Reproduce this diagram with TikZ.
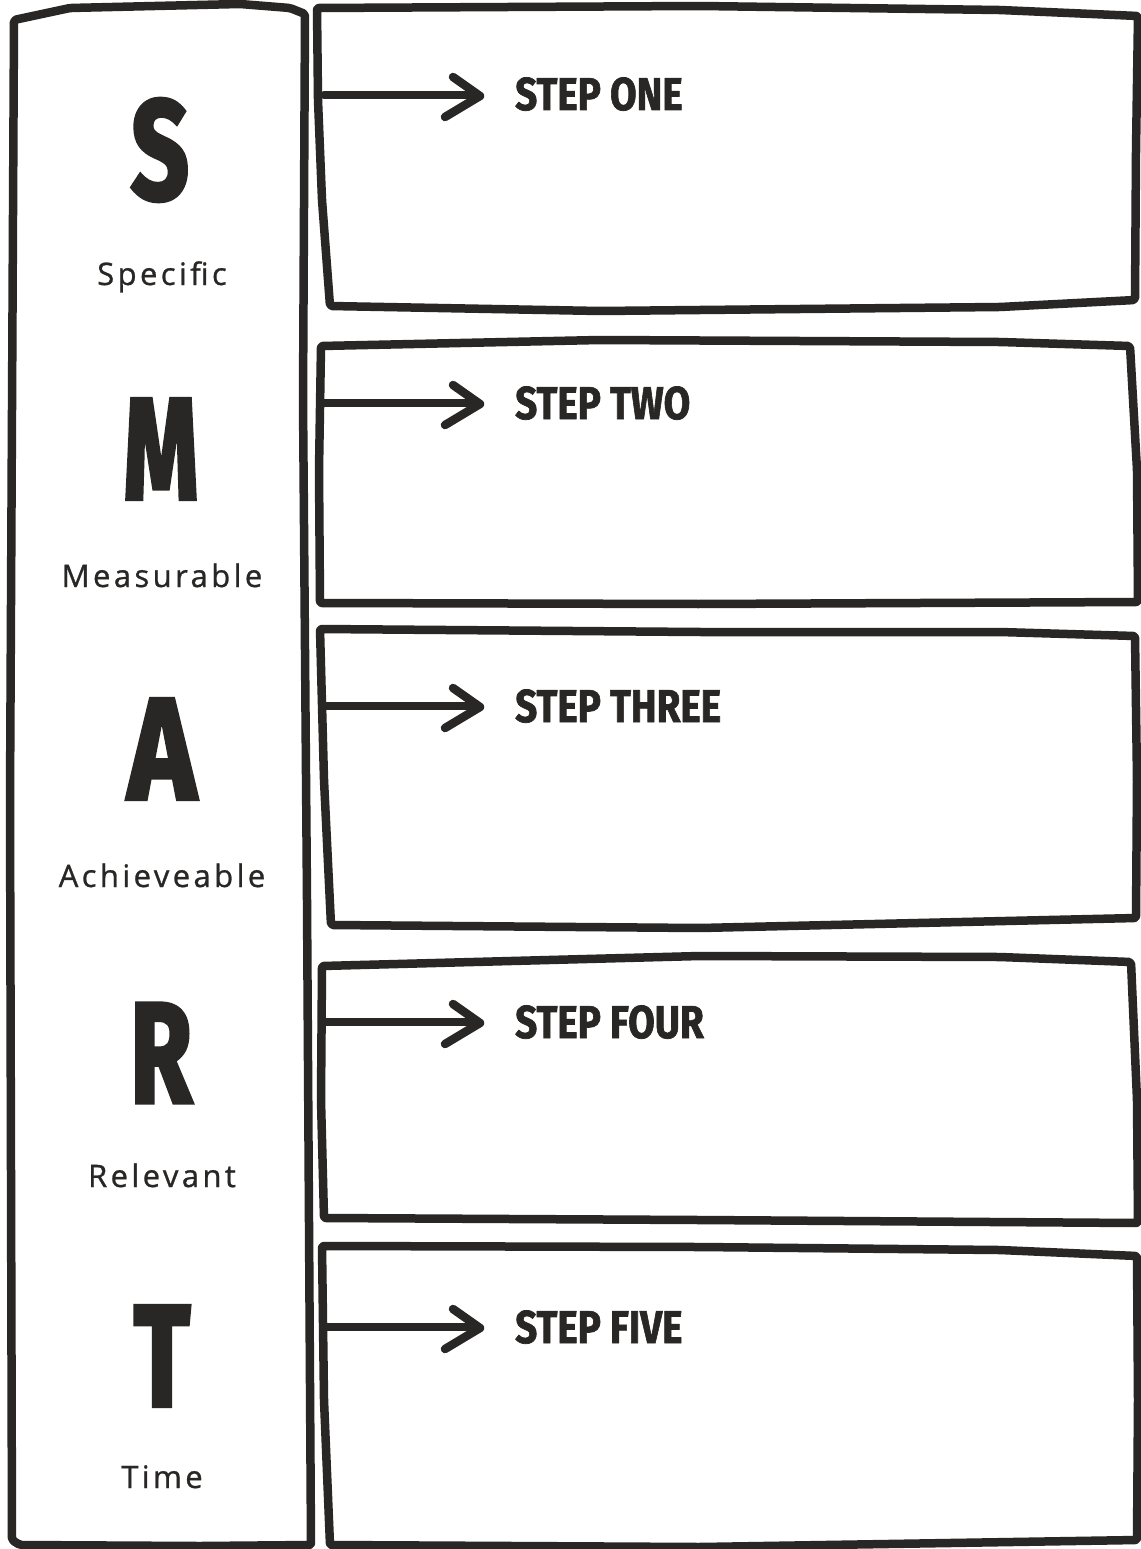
\documentclass[tikz,border=0pt]{standalone}
\usepackage{fontspec}
\usepackage{graphicx}
\usetikzlibrary{calc}
\setmainfont{Fira Sans}
\newfontfamily\labelfont{Open Sans}[LetterSpace=11, FakeBold=0.9]
\newfontfamily\stepfont{Fira Sans}[FakeBold=1.6]
\newfontfamily\heavyfont{Fira Sans}[FakeBold=3]
\definecolor{ink}{HTML}{282725}
\tikzset{
  handbox/.style={draw=ink, line width=8.5pt, line join=round, rounded corners=2pt},
  shaft/.style={draw=ink, line width=8.5pt, line cap=round},
  headline/.style={draw=ink, line width=8.5pt, line cap=round, line join=round},
  bigletter/.style={text=ink, inner sep=0pt, anchor=center},
  sublabel/.style={text=ink, inner sep=0pt, anchor=base, font=\labelfont\fontsize{31}{36}\selectfont},
  steplabel/.style={text=ink, inner sep=0pt, anchor=base west, font=\stepfont\bfseries\fontsize{46}{50}\selectfont}
}
\newcommand{\bigL}[3]{\resizebox{#1pt}{#2pt}{\heavyfont\bfseries #3}}
\newcommand{\stepT}[1]{\scalebox{0.84}[1]{#1}}
\begin{document}
\begin{tikzpicture}[x=1pt,y=-1pt]
\useasboundingbox[fill=white] (0,0) rectangle (1140,1549);
% left column
\draw[handbox] (14,20) -- (70,8) -- (240,4) -- (290,8) -- (305,14) -- (303,400) -- (307,900) -- (311,1545) -- (200,1546) -- (20,1545) -- (12,1540) -- (10,800) -- cycle;
% step boxes
\draw[handbox] (317,8) -- (700,6) -- (1000,10) -- (1138,16) -- (1136,150) -- (1135,300) -- (1000,307) -- (600,311) -- (330,306) -- (322,200) -- (318,100) -- cycle;
\draw[handbox] (321,346) -- (600,340) -- (1000,342) -- (1130,346) -- (1137,470) -- (1138,602) -- (700,604) -- (320,603) -- (319,470) -- cycle;
\draw[handbox] (320,629) -- (700,632) -- (1000,632) -- (1135,636) -- (1137,780) -- (1136,918) -- (700,928) -- (331,925) -- (324,780) -- cycle;
\draw[handbox] (322,966) -- (700,956) -- (1000,957) -- (1131,962) -- (1137,1100) -- (1138,1223) -- (700,1220) -- (324,1218) -- (321,1100) -- cycle;
\draw[handbox] (322,1246) -- (700,1247) -- (1000,1250) -- (1137,1256) -- (1138,1400) -- (1137,1540) -- (700,1547) -- (330,1545) -- (324,1400) -- cycle;
% letters
\node[bigletter] (S) at (160,150) {\bigL{58}{100}{S}};
\node[bigletter] (M) at (161,449) {\bigL{75}{100}{M}};
\node[bigletter] (A) at (162,749) {\bigL{68}{100}{A}};
\node[bigletter] (R) at (161,1053) {\bigL{62}{99}{R}};
\node[bigletter] (T) at (162,1356) {\bigL{56}{100}{T}};
% sub labels
\node[sublabel] (ls) at (162,285) {Specific};
\node[sublabel] (lm) at (162,587) {Measurable};
\node[sublabel] (la) at (162,887) {Achieveable};
\node[sublabel] (lr) at (162,1187) {Relevant};
\node[sublabel] (lt) at (162,1488) {Time};
% step labels
\node[steplabel] (s1) at (515,110) {\stepT{STEP ONE}};
\node[steplabel] (s2) at (515,419) {\stepT{STEP TWO}};
\node[steplabel] (s3) at (515,722) {\stepT{STEP THREE}};
\node[steplabel] (s4) at (515,1038) {\stepT{STEP FOUR}};
\node[steplabel] (s5) at (515,1343) {\stepT{STEP FIVE}};
% arrows
\foreach \y/\n in {95/1,403/2,706/3,1022/4,1327/5}{
  \coordinate (a\n) at (324,\y);
  \coordinate (b\n) at (476,\y);
  \draw[shaft] (a\n) -- (b\n);
  \draw[headline] ($(b\n)+(-23,-18)$) -- ($(b\n)+(4,1)$) -- ($(b\n)+(-31,22)$);
}
\end{tikzpicture}
\end{document}
